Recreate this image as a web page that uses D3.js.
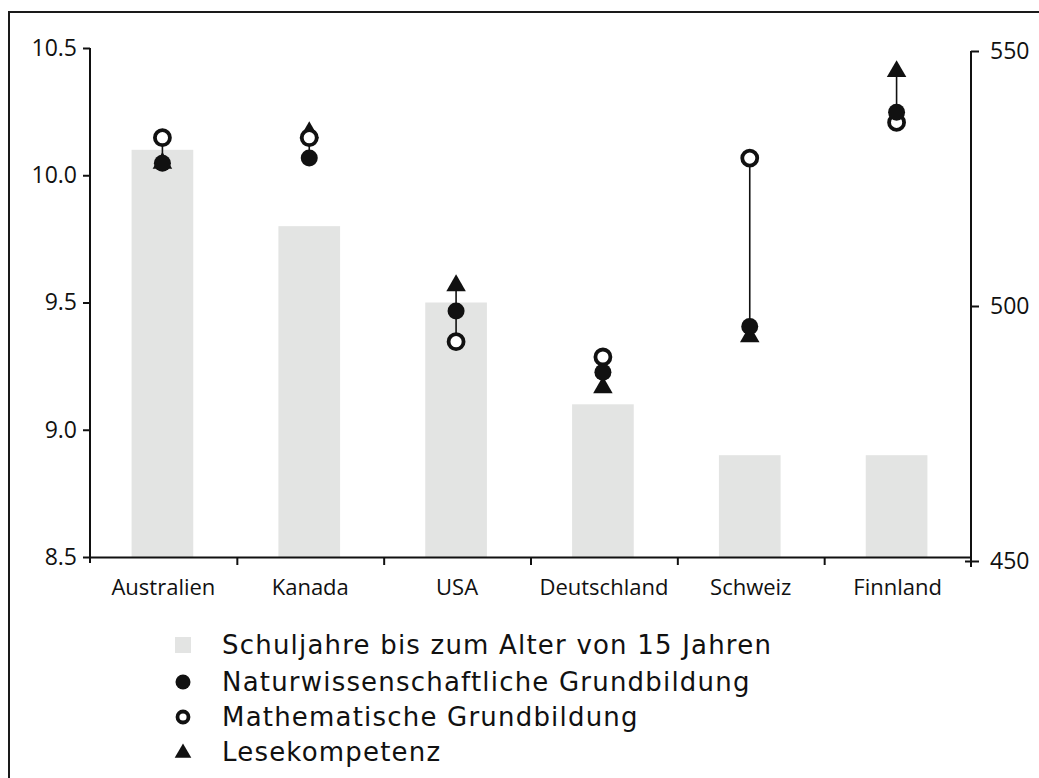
<!DOCTYPE html>
<html>
<head>
<meta charset="utf-8">
<script src="https://cdn.jsdelivr.net/npm/d3@7"></script>
<style>
  body { margin: 0; background: #fff; }
  text { font-family: "Open Sans", "Noto Sans", sans-serif; fill: #111; }
</style>
</head>
<body>
<svg id="chart" width="1039" height="778"></svg>
<script>
// data
var countries = ["Australien", "Kanada", "USA", "Deutschland", "Schweiz", "Finnland"];
var schuljahre = [10.1, 9.8, 9.5, 9.1, 8.9, 8.9];
var naturwiss = [528, 529, 499, 487, 496, 538];
var mathe = [533, 533, 493, 490, 529, 536];
var lese = [528, 534, 504, 484, 494, 546];
var leftTicks = [8.5, 9.0, 9.5, 10.0, 10.5];
var rightTicks = [450, 500, 550];
var legendLabels = ["Schuljahre bis zum Alter von 15 Jahren",
                    "Naturwissenschaftliche Grundbildung",
                    "Mathematische Grundbildung",
                    "Lesekompetenz"];

var svg = d3.select("#chart"),
    left = 90, right = 971, bottom = 557;

var barColor = "#e3e4e3";

// frame of the scanned figure
svg.append("path")
    .attr("d", "M9,778V12H1039")
    .attr("fill", "none")
    .attr("stroke", "#1a1a1a")
    .attr("stroke-width", 2);

var x = d3.scaleBand().domain(countries).range([left, right]),
    xEdge = d3.scaleLinear().domain([0, countries.length]).range([left, right]),
    yL = d3.scaleLinear().domain([8.5, 10.5]).range([bottom, 48]),
    yR = d3.scaleLinear().domain([450, 550]).range([561, 51]);

var barW = x.bandwidth() * 0.42;

// bars
svg.append("g").selectAll("rect")
    .data(countries)
    .enter().append("rect")
    .attr("x", function(d) { return x(d) + (x.bandwidth() - barW) / 2 - 1; })
    .attr("y", function(d, i) { return yL(schuljahre[i]); })
    .attr("width", barW)
    .attr("height", function(d, i) { return bottom - yL(schuljahre[i]); })
    .attr("fill", barColor);

// left axis
var gL = svg.append("g")
    .attr("transform", "translate(" + left + ",0)")
    .call(d3.axisLeft(yL).tickValues(leftTicks).tickFormat(d3.format(".1f")).tickSize(7).tickSizeOuter(0));
gL.select(".domain").attr("d", "M0," + yL.range()[1] + "V" + (bottom + 6));

// right axis
var gR = svg.append("g")
    .attr("transform", "translate(" + right + ",0)")
    .call(d3.axisRight(yR).tickValues(rightTicks).tickSize(8).tickSizeOuter(0));
gR.select(".domain").attr("d", "M0," + yR.range()[1] + "V" + (yR.range()[0] + 6));
gR.selectAll(".tick line").attr("x1", function(d) { return d === 450 ? -6 : 0; });

// bottom axis: line with ticks between countries
var gB = svg.append("g")
    .attr("transform", "translate(0," + bottom + ")")
    .call(d3.axisBottom(xEdge).tickValues(d3.range(1, countries.length)).tickFormat("").tickSize(8).tickSizeOuter(0));

var gC = svg.append("g")
    .attr("transform", "translate(0," + bottom + ")")
    .call(d3.axisBottom(x).tickSize(0).tickPadding(22));
gC.select(".domain").remove();

svg.selectAll(".domain, .tick line").attr("stroke", "#111").attr("stroke-width", 2);
svg.selectAll(".tick text")
    .style("font-family", "'Open Sans', 'Noto Sans', sans-serif")
    .style("font-size", "22px")
    .attr("fill", "#111");
gL.selectAll(".tick text").attr("x", -13).style("font-size", "23px");
gR.selectAll(".tick text").attr("x", 19).style("font-size", "23px");

// range lines per country
var cx = function(d) { return x(d) + x.bandwidth() / 2 - 1; };
var pts = svg.append("g");
pts.selectAll("line.range")
    .data(countries)
    .enter().append("line")
    .attr("class", "range")
    .attr("x1", cx)
    .attr("x2", cx)
    .attr("y1", function(d, i) { return yR(d3.max([naturwiss[i], mathe[i], lese[i]])); })
    .attr("y2", function(d, i) { return yR(d3.min([naturwiss[i], mathe[i], lese[i]])); })
    .attr("stroke", "#111")
    .attr("stroke-width", 1.6);

var tri = d3.symbol().type(d3.symbolTriangle).size(165);

pts.selectAll("path.lese")
    .data(countries)
    .enter().append("path")
    .attr("class", "lese")
    .attr("d", tri)
    .attr("transform", function(d, i) { return "translate(" + cx(d) + "," + yR(lese[i]) + ")"; })
    .attr("fill", "#111");

pts.selectAll("circle.mathe")
    .data(countries)
    .enter().append("circle")
    .attr("class", "mathe")
    .attr("cx", cx)
    .attr("cy", function(d, i) { return yR(mathe[i]); })
    .attr("r", 7.5)
    .attr("fill", "#fff")
    .attr("stroke", "#111")
    .attr("stroke-width", 3.8);

pts.selectAll("circle.natur")
    .data(countries)
    .enter().append("circle")
    .attr("class", "natur")
    .attr("cx", cx)
    .attr("cy", function(d, i) { return yR(naturwiss[i]); })
    .attr("r", 8.5)
    .attr("fill", "#111");

// legend
var legendY = [645, 682, 717, 752];
var legend = svg.append("g").selectAll("g")
    .data(legendLabels)
    .enter().append("g")
    .attr("transform", function(d, i) { return "translate(183," + legendY[i] + ")"; });

legend.append("text")
    .attr("x", 39)
    .attr("dy", "0.36em")
    .style("font-family", "'DejaVu Sans', sans-serif")
    .style("font-size", "26px")
    .style("letter-spacing", "1.2px")
    .text(function(d) { return d; });

legend.filter(function(d, i) { return i === 0; }).append("rect")
    .attr("x", -8).attr("y", -8).attr("width", 16).attr("height", 16)
    .attr("fill", barColor);
legend.filter(function(d, i) { return i === 1; }).append("circle")
    .attr("r", 7.5).attr("fill", "#111");
legend.filter(function(d, i) { return i === 2; }).append("circle")
    .attr("r", 5.5).attr("fill", "#fff").attr("stroke", "#111").attr("stroke-width", 3.8);
legend.filter(function(d, i) { return i === 3; }).append("path")
    .attr("d", d3.symbol().type(d3.symbolTriangle).size(120))
    .attr("transform", "translate(0,1)")
    .attr("fill", "#111");
</script>
</body>
</html>
